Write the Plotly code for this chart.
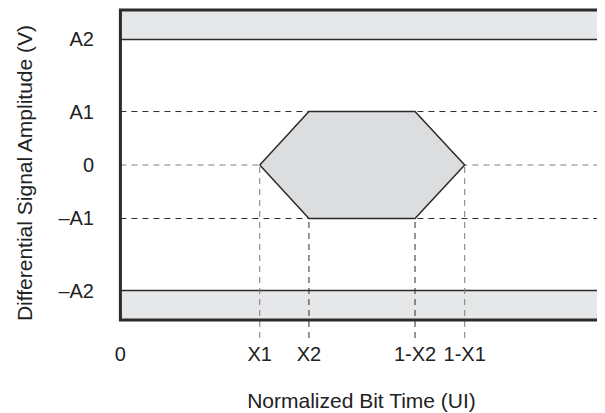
import plotly.graph_objects as go

# mask geometry (normalized units)
x_ticks = [0, 0.289, 0.391, 0.611, 0.714, 1]
x_labels = ['0', 'X1', 'X2', '1-X2', '1-X1', '1']
y_ticks = [-0.81, -0.345, 0, 0.345, 0.81]
y_labels = ['\u2013A2', '\u2013A1', '0', 'A1', 'A2']

X1, X2, X3, X4 = x_ticks[1:5]
A2n, A1n, Z, A1, A2 = y_ticks
LIMIT = 1.0
Y_BOTTOM = -1.116

DARK = '#2b2b2b'
GRAY = '#7d7d7d'
BAND = '#e6e7e8'
HEX = '#dcdddf'

fig = go.Figure()


def line(x, y, color, dash='6px,5px', width=1):
    fig.add_trace(go.Scatter(x=x, y=y, mode='lines',
                             line=dict(color=color, width=width, dash=dash),
                             hoverinfo='skip', showlegend=False))


# grey forbidden bands top / bottom
for lo, hi in [(A2, LIMIT), (-LIMIT, A2n)]:
    fig.add_trace(go.Scatter(x=[0, 1, 1, 0, 0], y=[lo, lo, hi, hi, lo],
                             fill='toself', fillcolor=BAND, mode='lines',
                             line=dict(color=DARK, width=1.5),
                             hoverinfo='skip', showlegend=False))

# horizontal dashed guides
line([0, 1], [A1, A1], DARK)
line([0, 1], [A1n, A1n], DARK)
line([0, 1], [Z, Z], GRAY)

# vertical dashed guides down to the tick labels
line([X1, X1], [Y_BOTTOM, Z], GRAY)
line([X4, X4], [Y_BOTTOM, Z], GRAY)
line([X2, X2], [Y_BOTTOM, A1n], DARK)
line([X3, X3], [Y_BOTTOM, A1n], DARK)

# eye mask hexagon
fig.add_trace(go.Scatter(x=[X1, X2, X3, X4, X3, X2, X1],
                         y=[Z, A1, A1, Z, A1n, A1n, Z],
                         fill='toself', fillcolor=HEX, mode='lines',
                         line=dict(color=DARK, width=1.5),
                         hoverinfo='skip', showlegend=False))

# outer frame
fig.add_shape(type='rect', xref='x', yref='y', x0=0, x1=1, y0=-LIMIT, y1=LIMIT,
              line=dict(color=DARK, width=3), layer='above')

# page body adds an 8px margin, so the figure is a bit smaller than the window
fig.update_layout(
    width=597, height=405,
    margin=dict(l=110, r=0, t=0, b=75),
    paper_bgcolor='white',
    plot_bgcolor='white',
    font=dict(family='Liberation Sans, Arial, sans-serif', size=17.5, color='#222'),
    showlegend=False,
)

fig.update_xaxes(
    range=[-0.005, 1.005],
    tickvals=x_ticks, ticktext=x_labels,
    tickfont=dict(size=20),
    showgrid=False, zeroline=False, showline=False,
    ticks='outside', ticklen=6, tickcolor='rgba(0,0,0,0)',
    ticklabelstandoff=-8,
    ticklabeloverflow='allow', automargin=False,
    title=dict(text='Normalized Bit Time (UI)', standoff=29),
)
fig.update_yaxes(
    range=[Y_BOTTOM, 1.013],
    tickvals=y_ticks, ticktext=y_labels,
    tickfont=dict(size=20),
    showgrid=False, zeroline=False, showline=False,
    ticks='outside', ticklen=19, tickcolor='rgba(0,0,0,0)',
    ticklabeloverflow='allow', automargin=False,
    title=dict(text='Differential Signal Amplitude (V)', standoff=20),
)

fig.write_html('out.html')
